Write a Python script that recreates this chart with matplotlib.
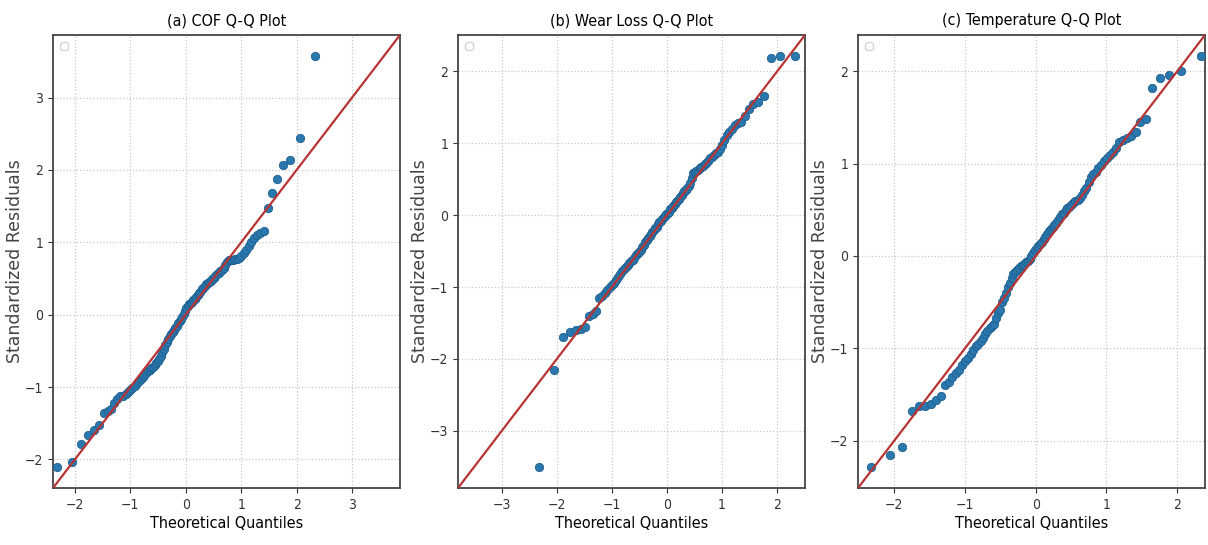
import matplotlib
matplotlib.use("Agg")
import matplotlib.pyplot as plt
from matplotlib.ticker import MultipleLocator
from statistics import NormalDist
import numpy as np

titles = ["(a) COF Q-Q Plot", "(b) Wear Loss Q-Q Plot", "(c) Temperature Q-Q Plot"]
xlabel = "Theoretical Quantiles"
ylabel = "Standardized Residuals"

# sorted standardized residuals (n = 100 each)
cof_resid = [
    -2.11, -2.03, -1.78, -1.66, -1.60, -1.52, -1.36, -1.33, -1.30, -1.22,
    -1.16, -1.13, -1.12, -1.10, -1.07, -1.04, -1.01, -0.98, -0.95, -0.92,
    -0.89, -0.86, -0.83, -0.80, -0.78, -0.76, -0.74, -0.72, -0.70, -0.67,
    -0.64, -0.61, -0.57, -0.52, -0.47, -0.42, -0.38, -0.34, -0.30, -0.27,
    -0.24, -0.21, -0.18, -0.15, -0.12, -0.09, -0.06, -0.03, 0.01, 0.05,
    0.09, 0.12, 0.15, 0.16, 0.18, 0.20, 0.22, 0.24, 0.27, 0.30,
    0.32, 0.35, 0.37, 0.40, 0.42, 0.44, 0.45, 0.47, 0.49, 0.51,
    0.53, 0.56, 0.58, 0.60, 0.62, 0.64, 0.68, 0.73, 0.75, 0.76,
    0.76, 0.77, 0.77, 0.79, 0.81, 0.85, 0.89, 0.95, 1.00, 1.06,
    1.10, 1.13, 1.16, 1.48, 1.68, 1.88, 2.07, 2.14, 2.44, 3.58,
]
wear_resid = [
    -3.51, -2.16, -1.70, -1.63, -1.60, -1.58, -1.56, -1.40, -1.37, -1.34,
    -1.15, -1.12, -1.08, -1.04, -1.00, -0.97, -0.94, -0.90, -0.86, -0.82,
    -0.78, -0.75, -0.72, -0.69, -0.66, -0.64, -0.62, -0.59, -0.56, -0.53,
    -0.51, -0.48, -0.45, -0.41, -0.38, -0.35, -0.32, -0.29, -0.26, -0.24,
    -0.21, -0.18, -0.16, -0.13, -0.10, -0.08, -0.06, -0.03, -0.01, 0.01,
    0.03, 0.05, 0.08, 0.10, 0.13, 0.16, 0.18, 0.20, 0.23, 0.25,
    0.28, 0.31, 0.33, 0.35, 0.38, 0.41, 0.45, 0.52, 0.58, 0.60,
    0.62, 0.63, 0.65, 0.67, 0.69, 0.71, 0.73, 0.76, 0.79, 0.81,
    0.83, 0.86, 0.88, 0.92, 0.97, 1.05, 1.12, 1.16, 1.20, 1.25,
    1.28, 1.30, 1.38, 1.47, 1.54, 1.58, 1.66, 2.19, 2.22, 2.22,
]
temp_resid = [
    -2.29, -2.16, -2.07, -1.68, -1.63, -1.62, -1.60, -1.56, -1.52, -1.40,
    -1.36, -1.31, -1.27, -1.23, -1.18, -1.14, -1.10, -1.06, -1.02, -0.98,
    -0.95, -0.92, -0.89, -0.85, -0.81, -0.78, -0.76, -0.74, -0.67, -0.62,
    -0.58, -0.50, -0.46, -0.40, -0.34, -0.29, -0.24, -0.20, -0.17, -0.15,
    -0.13, -0.11, -0.10, -0.09, -0.07, -0.05, -0.03, 0.00, 0.03, 0.06,
    0.09, 0.11, 0.13, 0.15, 0.18, 0.21, 0.24, 0.27, 0.29, 0.31,
    0.33, 0.36, 0.39, 0.42, 0.45, 0.47, 0.50, 0.52, 0.53, 0.55,
    0.57, 0.59, 0.61, 0.63, 0.66, 0.70, 0.74, 0.80, 0.86, 0.89,
    0.91, 0.95, 0.99, 1.03, 1.06, 1.09, 1.13, 1.17, 1.23, 1.26,
    1.28, 1.30, 1.34, 1.45, 1.48, 1.82, 1.93, 1.96, 2.00, 2.17,
]
series = [cof_resid, wear_resid, temp_resid]

point_color = "#2a78ae"
line_color = "#b83434"
font = {"family": "DejaVu Sans", "stretch": "condensed"}

fig = plt.figure(figsize=(12.08, 5.45), dpi=100)
lefts = [53 / 1208, 458 / 1208, 858 / 1208]
w = 347 / 1208
bottom = 1 - 488 / 545
h = (488 - 35) / 545

for left, title, resid in zip(lefts, titles, series):
    ax = fig.add_axes([left, bottom, w, h])
    n = len(resid)
    nd = NormalDist()
    theo = [nd.inv_cdf(i / (n + 1)) for i in range(1, n + 1)]
    ax.plot(theo, resid, "o", color=point_color, markeredgecolor="#1f5f8f",
            markersize=6, markeredgewidth=0.6, zorder=3)
    lims = ax.get_ylim()
    ax.plot(lims, lims, color=line_color, linewidth=1.6, zorder=4)
    ax.set_xlim(lims)
    ax.set_ylim(lims)
    ax.xaxis.set_major_locator(MultipleLocator(1))
    ax.yaxis.set_major_locator(MultipleLocator(1))
    ax.grid(True, linestyle=":", color="#bbbbbb", linewidth=0.9, alpha=0.8)
    ax.set_axisbelow(True)
    for s in ax.spines.values():
        s.set_color("#444444")
        s.set_linewidth(1.3)
    ax.set_title(title, fontsize=11.5, pad=7, **font)
    ax.set_xlabel(xlabel, fontsize=11.5, labelpad=3, **font)
    ax.set_ylabel(ylabel, fontsize=12.5, color="#444444", family="DejaVu Sans")
    ax.yaxis.set_label_coords(-0.085, 0.5)
    ax.tick_params(labelsize=10, colors="#333333", length=3.5)
    for lab in ax.get_xticklabels() + ax.get_yticklabels():
        lab.set_fontstretch("condensed")
    ax.legend(handles=[], loc="upper left", frameon=True, borderpad=0.3)

fig.savefig("out.png", dpi=100)
